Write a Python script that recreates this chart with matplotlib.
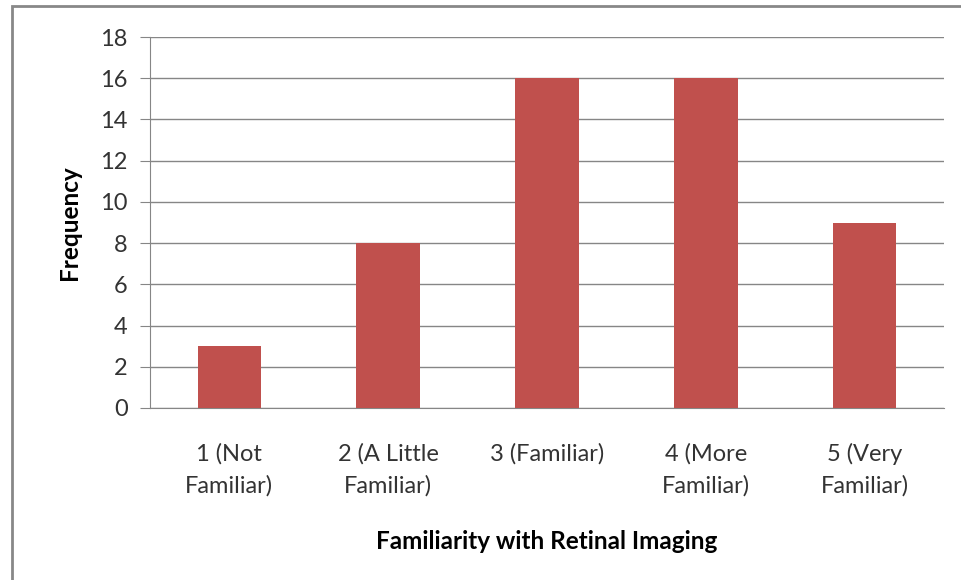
import matplotlib
matplotlib.use('Agg')
import matplotlib.pyplot as plt
from matplotlib.patches import Rectangle

# Donnees
categories = ["1 (Not\nFamiliar)", "2 (A Little\nFamiliar)", "3 (Familiar)",
              "4 (More\nFamiliar)", "5 (Very\nFamiliar)"]
frequences = [3, 8, 16, 16, 9]
yticks = [0, 2, 4, 6, 8, 10, 12, 14, 16, 18]

plt.rcParams['font.family'] = ['Lato', 'DejaVu Sans']

fig = plt.figure(figsize=(9.61, 5.80), dpi=100)
ax = fig.add_axes([150 / 961, 1 - 408 / 580, 794 / 961, 371 / 580])

# Barres
x = range(len(categories))
ax.bar(x, frequences, width=0.40, color='#C0504D', zorder=3)

ax.set_xlim(-0.5, len(categories) - 0.5)
ax.set_ylim(0, 18)
ax.set_yticks(yticks)
ax.set_xticks(list(x))
ax.set_xticklabels(categories, fontsize=17, color='#333333', linespacing=1.6)
ax.tick_params(axis='y', labelsize=17, labelcolor='#333333', length=7,
               color='#868686', pad=9)
ax.tick_params(axis='x', length=0, pad=25)

# Grille horizontale
ax.grid(axis='y', color='#868686', linewidth=1, zorder=0)
for s in ['top', 'right']:
    ax.spines[s].set_visible(False)
ax.spines['left'].set_color('#868686')
ax.spines['bottom'].set_color('#868686')

ax.set_ylabel("Frequency", fontsize=17.5, fontweight='bold', labelpad=14)
ax.set_xlabel("Familiarity with Retinal Imaging", fontsize=17.5,
              fontweight='bold', labelpad=24)

# Cadre exterieur (coupe a droite et en bas)
fig.patches.append(Rectangle((12 / 961, -0.1), 1.2, 1 - 6 / 580 + 0.1,
                             transform=fig.transFigure, fill=False,
                             edgecolor='#888888', linewidth=2))

plt.savefig("out.png", dpi=100)
